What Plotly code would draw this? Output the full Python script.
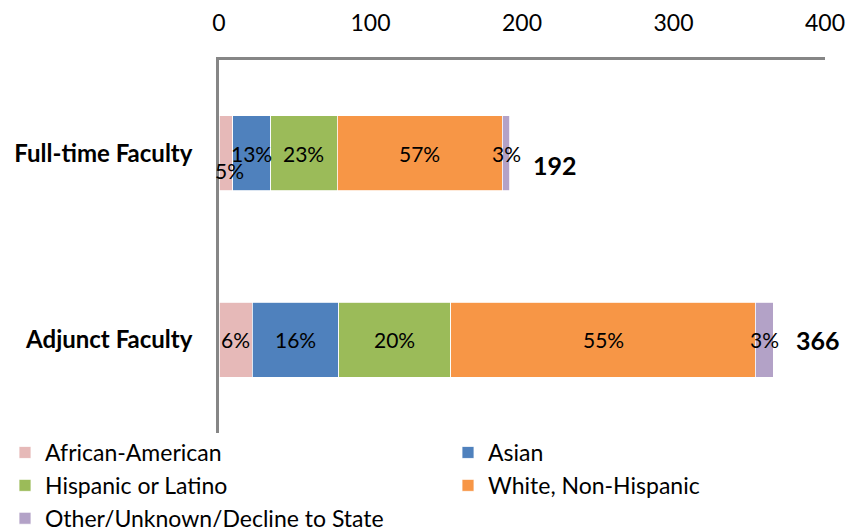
import plotly.graph_objects as go

# Faculty headcount by ethnicity
categories = ["Adjunct Faculty", "Full-time Faculty"]
groups = [
    "African-American",
    "Asian",
    "Hispanic or Latino",
    "White, Non-Hispanic",
    "Other/Unknown/Decline to State",
]
full_time = [9, 25, 44, 109, 5]
adjunct = [22, 57, 74, 201, 12]
x_ticks = [0, 100, 200, 300, 400]

colors = ["#E6B9B8", "#4F81BD", "#9BBB59", "#F79646", "#B3A2C7"]
FONT = "Lato, Calibri, 'DejaVu Sans', sans-serif"
AXIS_GREY = "#868686"

series = {"Adjunct Faculty": adjunct, "Full-time Faculty": full_time}

fig = go.Figure()
for i, name in enumerate(groups):
    fig.add_trace(go.Bar(
        name=name,
        y=categories,
        x=[series[c][i] for c in categories],
        orientation="h",
        marker=dict(color=colors[i], line=dict(color="white", width=0.8)),
        legend="legend" if i % 2 == 0 else "legend2",
        hoverinfo="skip",
    ))

# percentage labels centred in each segment, plus the total at the bar end
label_nudge = {("Full-time Faculty", 0): (4, -17)}
annotations = []
for cat in categories:
    vals = series[cat]
    total = sum(vals)
    start = 0
    for i, v in enumerate(vals):
        dx, dy = label_nudge.get((cat, i), (0, 0))
        annotations.append(dict(
            x=start + v / 2, y=cat, xref="x", yref="y",
            text=f"{round(v / total * 100)}%",
            showarrow=False, xshift=dx, yshift=dy,
            font=dict(family=FONT, size=21, color="#000000"),
        ))
        start += v
    annotations.append(dict(
        x=total, y=cat, xref="x", yref="y",
        text=f"<b>{total}</b>", showarrow=False,
        xanchor="left", xshift=21,
        yshift=-12 if cat == "Full-time Faculty" else 0,
        font=dict(family=FONT, size=25, color="#000000"),
    ))

# two legend columns: left holds groups 1/3/5, right holds groups 2/4
legend_common = dict(
    orientation="v", xref="container", yref="container",
    yanchor="top", xanchor="left", traceorder="normal",
    font=dict(family=FONT, size=23, color="#000000"),
    bgcolor="rgba(0,0,0,0)", itemclick=False, itemdoubleclick=False,
)

fig.update_layout(
    width=847, height=527,
    margin=dict(l=219, r=22, t=60, b=94, autoexpand=False),
    paper_bgcolor="white", plot_bgcolor="white",
    barmode="stack", bargap=0.6,
    font=dict(family=FONT, color="#000000"),
    xaxis=dict(
        range=[0, 400], side="top", tickvals=x_ticks,
        showgrid=False, zeroline=False,
        showline=True, linecolor=AXIS_GREY, linewidth=2.5,
        ticks="", ticklabelstandoff=17,
        tickfont=dict(family=FONT, size=23, color="#000000"),
        fixedrange=True, automargin=False,
    ),
    yaxis=dict(
        categoryorder="array", categoryarray=categories,
        range=[-0.5, 1.5],
        showgrid=False, zeroline=False,
        showline=True, linecolor=AXIS_GREY, linewidth=2.5,
        ticks="", ticklabelstandoff=19,
        tickfont=dict(family=FONT, size=24, color="#000000", weight="bold"),
        fixedrange=True, automargin=False,
    ),
    legend=dict(x=5 / 847, y=1 - 431 / 527, **legend_common),
    legend2=dict(x=448 / 847, y=1 - 431 / 527, **legend_common),
    annotations=annotations,
    showlegend=True,
)

fig.write_html("out.html")
